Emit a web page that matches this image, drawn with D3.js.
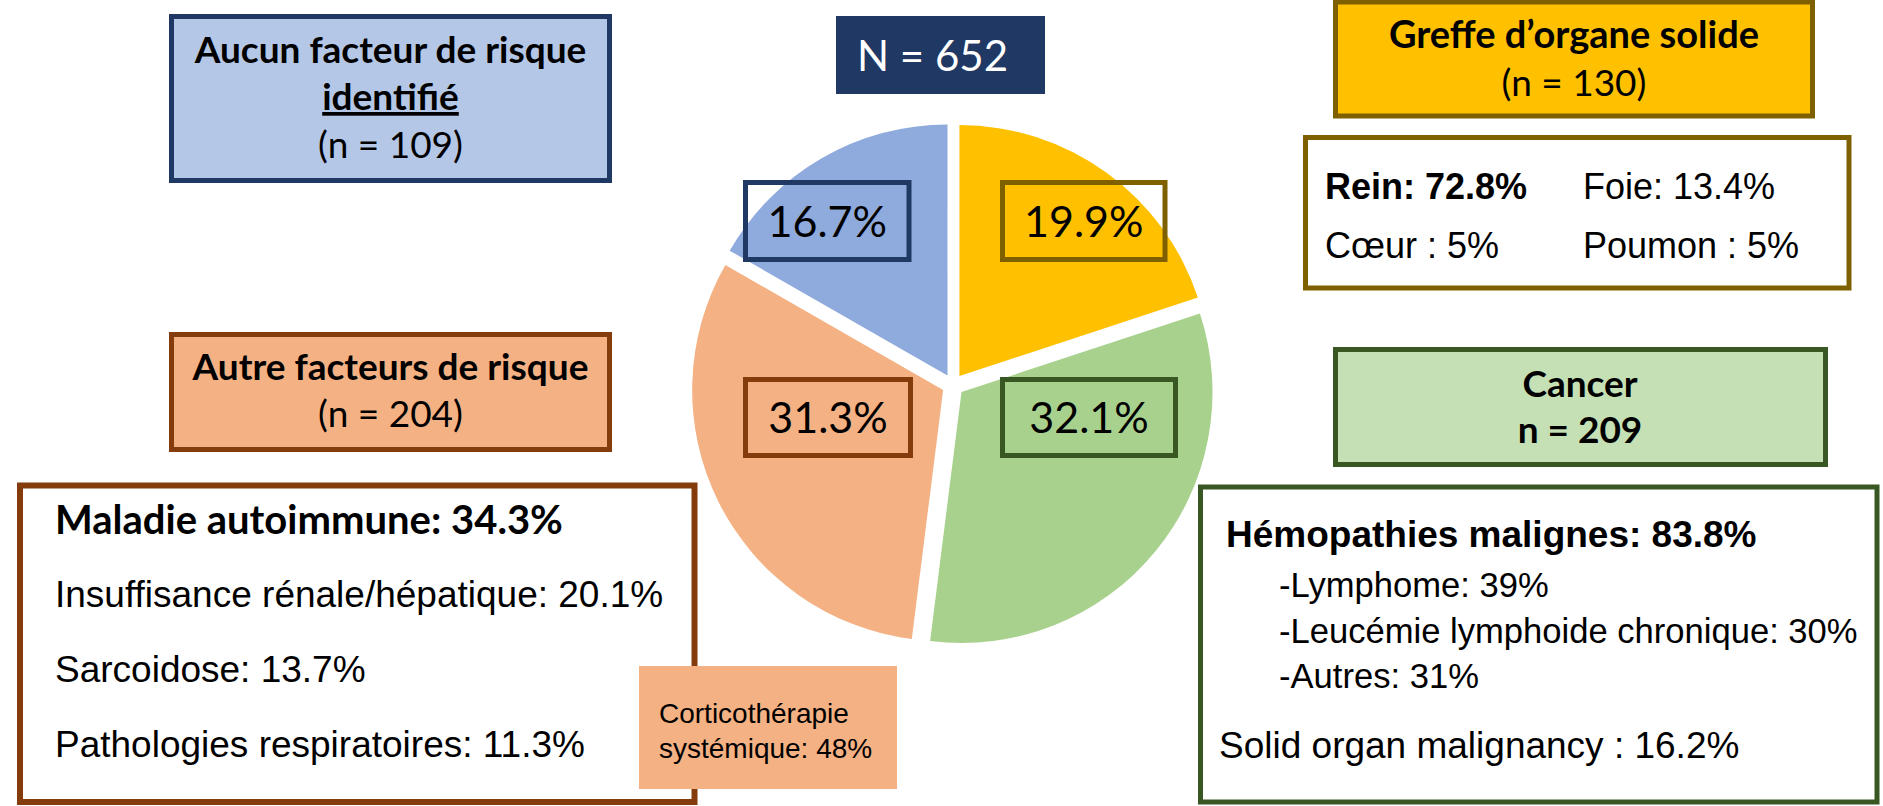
<!DOCTYPE html>
<html>
<head>
<meta charset="utf-8">
<script src="https://cdn.jsdelivr.net/npm/d3@7"></script>
<style>
  html, body { margin: 0; padding: 0; background: #ffffff; }
  svg { display: block; }
</style>
</head>
<body>
<svg id="chart" width="1883" height="806"></svg>
<script>
// ---------------- DATA ----------------
const total = 652;
const categories = ["Greffe d’organe solide", "Cancer", "Autre facteurs de risque", "Aucun facteur de risque identifié"];
const counts = [130, 209, 204, 109];
const percents = [19.9, 32.1, 31.3, 16.7];

const greffeLabels = ["Rein", "Foie", "Cœur", "Poumon"];
const greffeValues = [72.8, 13.4, 5, 5];

const autreLabels = ["Maladie autoimmune", "Insuffisance rénale/hépatique", "Sarcoidose", "Pathologies respiratoires"];
const autreValues = [34.3, 20.1, 13.7, 11.3];
const corticoLabel = ["Corticothérapie", "systémique"];
const corticoValue = 48;

const cancerMainLabels = ["Hémopathies malignes", "Solid organ malignancy"];
const cancerMainValues = [83.8, 16.2];
const hemoLabels = ["Lymphome", "Leucémie lymphoide chronique", "Autres"];
const hemoValues = [39, 30, 31];

// ---------------- STYLE ----------------
const sliceFill   = ["#FFC000", "#A9D18E", "#F4B183", "#8FAADC"];
const sliceBorder = ["#E6AD0A", "#9ABE81", "#DEA078", "#7F9AC8"];
const darkStroke  = ["#7F6000", "#385723", "#843C0C", "#203864"];
const panelFill   = ["#FFC000", "#C5E0B4", "#F4B183", "#B4C7E7"];

const CAL = "Lato, 'Open Sans', sans-serif";
const ARI = "'Liberation Sans', Arial, sans-serif";

const svg = d3.select("#chart");
svg.append("rect").attr("width", 1883).attr("height", 806).attr("fill", "#ffffff");

// ---------------- PIE ----------------
const cx = 953, cy = 385, R = 251, explode = 11, band = 12;
const pie = d3.pie().sort(null).startAngle(0).endAngle(2 * Math.PI);
const arcs = pie(counts);
const arc = d3.arc().innerRadius(0).outerRadius(R);
const defs = svg.append("defs");

const pieG = svg.append("g").attr("transform", `translate(${cx},${cy})`);
arcs.forEach((a, i) => {
  const mid = (a.startAngle + a.endAngle) / 2;
  const dx = Math.sin(mid) * explode, dy = -Math.cos(mid) * explode;
  const g = pieG.append("g").attr("transform", `translate(${dx},${dy})`);
  const d = arc(a);
  defs.append("clipPath").attr("id", "clip" + i).append("path").attr("d", d)
    .attr("transform", `translate(${cx + dx},${cy + dy})`);
  g.append("path").attr("d", d).attr("fill", sliceFill[i]);
  g.append("path").attr("d", d).attr("fill", "none")
    .attr("stroke", sliceBorder[i]).attr("stroke-width", band * 2)
    .attr("stroke-linejoin", "miter")
    .attr("clip-path", `url(#clip${i})`);
});

// ---------------- PERCENT LABEL BOXES ----------------
const labelBoxes = [
  { x: 1002.5, y: 182.5, w: 162.5, h: 77 },
  { x: 1002.5, y: 379.5, w: 173,   h: 76 },
  { x: 745.5,  y: 379.5, w: 165,   h: 76 },
  { x: 745.5,  y: 182.5, w: 163.5, h: 77 }
];
percents.forEach((p, i) => {
  const b = labelBoxes[i];
  svg.append("rect").attr("x", b.x).attr("y", b.y).attr("width", b.w).attr("height", b.h)
    .attr("fill", "none").attr("stroke", darkStroke[i]).attr("stroke-width", 5);
  svg.append("text").attr("x", b.x + b.w / 2).attr("y", b.y + b.h / 2 + 15.5)
    .attr("text-anchor", "middle").attr("font-family", CAL).attr("font-size", 43)
    .attr("fill", "#000").text(p.toFixed(1) + "%");
});

// ---------------- HELPERS ----------------
function box(x, y, w, h, fill, stroke, sw) {
  svg.append("rect").attr("x", x).attr("y", y).attr("width", w).attr("height", h)
    .attr("fill", fill).attr("stroke", stroke || "none").attr("stroke-width", sw || 0);
}
function txt(x, y, s, opt) {
  const t = svg.append("text").attr("x", x).attr("y", y)
    .attr("font-family", opt.font || ARI).attr("font-size", opt.size)
    .attr("font-weight", opt.bold ? "bold" : "normal")
    .attr("text-anchor", opt.anchor || "start")
    .attr("fill", opt.color || "#000");
  if (opt.underline) t.style("text-decoration", "underline");
  t.text(s);
  return t;
}
const fmt = v => (Number.isInteger(v) ? String(v) : v.toFixed(1));

// ---------------- N BOX ----------------
box(836, 16, 209, 78, "#203864");
txt(857, 71, "N = " + total, { font: CAL, size: 42, color: "#ffffff" });

// ---------------- AUCUN ----------------
box(171.5, 16.5, 438, 164, panelFill[3], darkStroke[3], 5);
txt(390.5, 63, "Aucun facteur de risque", { font: CAL, size: 37, bold: true, anchor: "middle" });
txt(390.5, 110, "identifié", { font: CAL, size: 37, bold: true, anchor: "middle", underline: true });
txt(390.5, 158, `(n = ${counts[3]})`, { font: CAL, size: 37, anchor: "middle" });

// ---------------- AUTRE ----------------
box(171.5, 334.5, 438, 115, panelFill[2], darkStroke[2], 5);
txt(390.5, 380, categories[2], { font: CAL, size: 37, bold: true, anchor: "middle" });
txt(390.5, 427, `(n = ${counts[2]})`, { font: CAL, size: 37, anchor: "middle" });

// Maladie detail box
box(20, 485.5, 674.5, 316.5, "#ffffff", darkStroke[2], 6);
txt(55, 534, `${autreLabels[0]}: ${fmt(autreValues[0])}%`, { font: CAL, size: 40, bold: true });
const autreY = [607, 682, 757];
autreLabels.slice(1).forEach((l, i) => {
  txt(55, autreY[i], `${l}: ${fmt(autreValues[i + 1])}%`, { size: 37 });
});

// Cortico box
box(639, 666, 258, 123, panelFill[2]);
txt(659, 723, corticoLabel[0], { size: 28 });
txt(659, 758, `${corticoLabel[1]}: ${corticoValue}%`, { size: 28 });

// ---------------- GREFFE ----------------
box(1335.5, 2, 477, 114, panelFill[0], darkStroke[0], 5);
txt(1574, 48, categories[0], { font: CAL, size: 38, bold: true, anchor: "middle" });
txt(1574, 96, `(n = ${counts[0]})`, { font: CAL, size: 37, anchor: "middle" });

box(1305.5, 137.5, 543.5, 150.5, "#ffffff", darkStroke[0], 5);
const greffePos = [[1325, 199], [1583, 199], [1325, 258], [1583, 258]];
greffeLabels.forEach((l, i) => {
  const sep = (i >= 2) ? " : " : ": ";
  txt(greffePos[i][0], greffePos[i][1], `${l}${sep}${fmt(greffeValues[i])}%`, { size: 36, bold: i === 0 });
});

// ---------------- CANCER ----------------
box(1335.5, 349.5, 490, 115, panelFill[1], darkStroke[1], 5);
txt(1580, 397, categories[1], { font: CAL, size: 37, bold: true, anchor: "middle" });
txt(1580, 443, `n = ${counts[1]}`, { font: CAL, size: 37, bold: true, anchor: "middle" });

box(1200.5, 487, 676.5, 315, "#ffffff", darkStroke[1], 5);
txt(1226, 547, `${cancerMainLabels[0]}: ${fmt(cancerMainValues[0])}%`, { size: 37, bold: true });
const hemoY = [597, 643, 688];
hemoLabels.forEach((l, i) => {
  txt(1279, hemoY[i], `-${l}: ${fmt(hemoValues[i])}%`, { size: 34.6 });
});
txt(1219, 758, `${cancerMainLabels[1]} : ${fmt(cancerMainValues[1])}%`, { size: 37 });
</script>
</body>
</html>
